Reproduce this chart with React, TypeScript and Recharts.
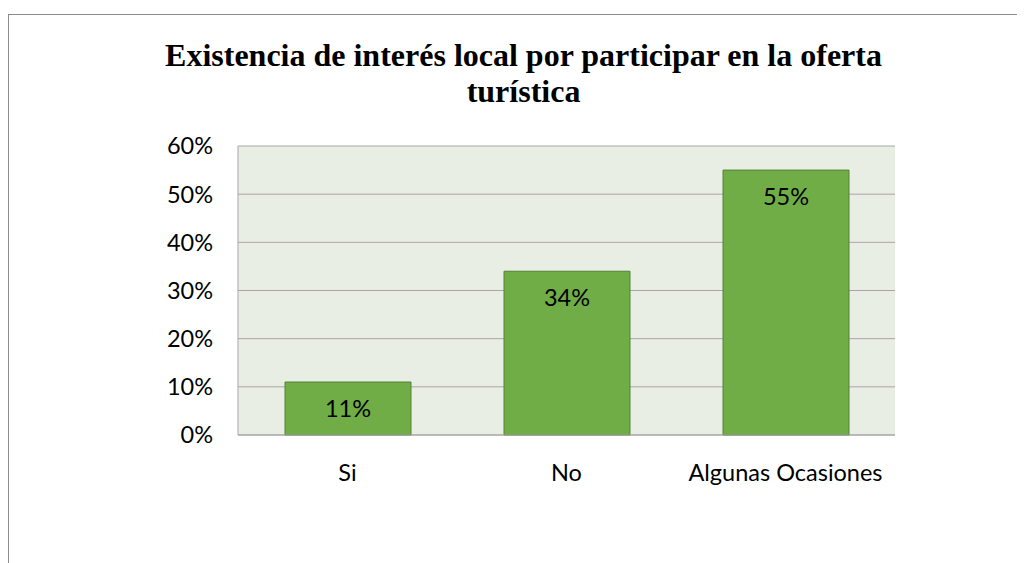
import { Bar, BarChart, CartesianGrid, LabelList, XAxis, YAxis } from "recharts";

const categories = ["Si", "No", "Algunas Ocasiones"];
const shares = [0.11, 0.34, 0.55];
const yTicks = [0, 0.1, 0.2, 0.3, 0.4, 0.5, 0.6];

const data = categories.map((name, i) => ({ name, value: shares[i] }));

const pct = (v: number) => `${Math.round(v * 100)}%`;
const FONT = "Lato, 'Open Sans', sans-serif";

export default function App() {
  return (
    <div style={{ position: "relative", width: 1017, height: 555, overflow: "hidden" }}>
      <div
        style={{
          position: "absolute",
          left: 0,
          top: 6,
          width: 1030,
          height: 560,
          borderTop: "1px solid #8c8c8c",
          borderLeft: "1px solid #8c8c8c"
        }}
      />
      <div
        style={{
          position: "absolute",
          left: 0,
          top: 29,
          width: 1031,
          textAlign: "center",
          fontFamily: "'Liberation Serif', 'Times New Roman', serif",
          fontWeight: "bold",
          fontSize: 32,
          lineHeight: "36px",
          color: "#000"
        }}
      >
        Existencia de interés local por participar en la oferta
        <br />
        turística
      </div>
      <div style={{ position: "absolute", left: 0, top: 0 }}>
        <BarChart
          width={1017}
          height={555}
          data={data}
          margin={{ top: 138, right: 130, left: 0, bottom: 68 }}
        >
          <CartesianGrid vertical={false} stroke="#a6a6a6" fill="#e9eee5" />
          <XAxis
            dataKey="name"
            height={60}
            tickSize={0}
            tickMargin={29}
            axisLine={{ stroke: "#a6a6a6" }}
            tick={{ fill: "#000", fontSize: 23.5, fontFamily: FONT }}
          />
          <YAxis
            width={230}
            domain={[0, 0.6]}
            ticks={yTicks}
            tickFormatter={pct}
            tickSize={0}
            tickMargin={25}
            axisLine={{ stroke: "#a6a6a6" }}
            tick={{ fill: "#000", fontSize: 23.5, fontFamily: FONT }}
          />
          <Bar dataKey="value" barSize={126} fill="#70ad47" stroke="#548235" strokeWidth={1} isAnimationActive={false}>
            <LabelList
              dataKey="value"
              position="insideTop"
              offset={18}
              formatter={(v: any) => pct(Number(v))}
              style={{ fill: "#000", fontSize: 23.5, fontFamily: FONT }}
            />
          </Bar>
        </BarChart>
      </div>
    </div>
  );
}
